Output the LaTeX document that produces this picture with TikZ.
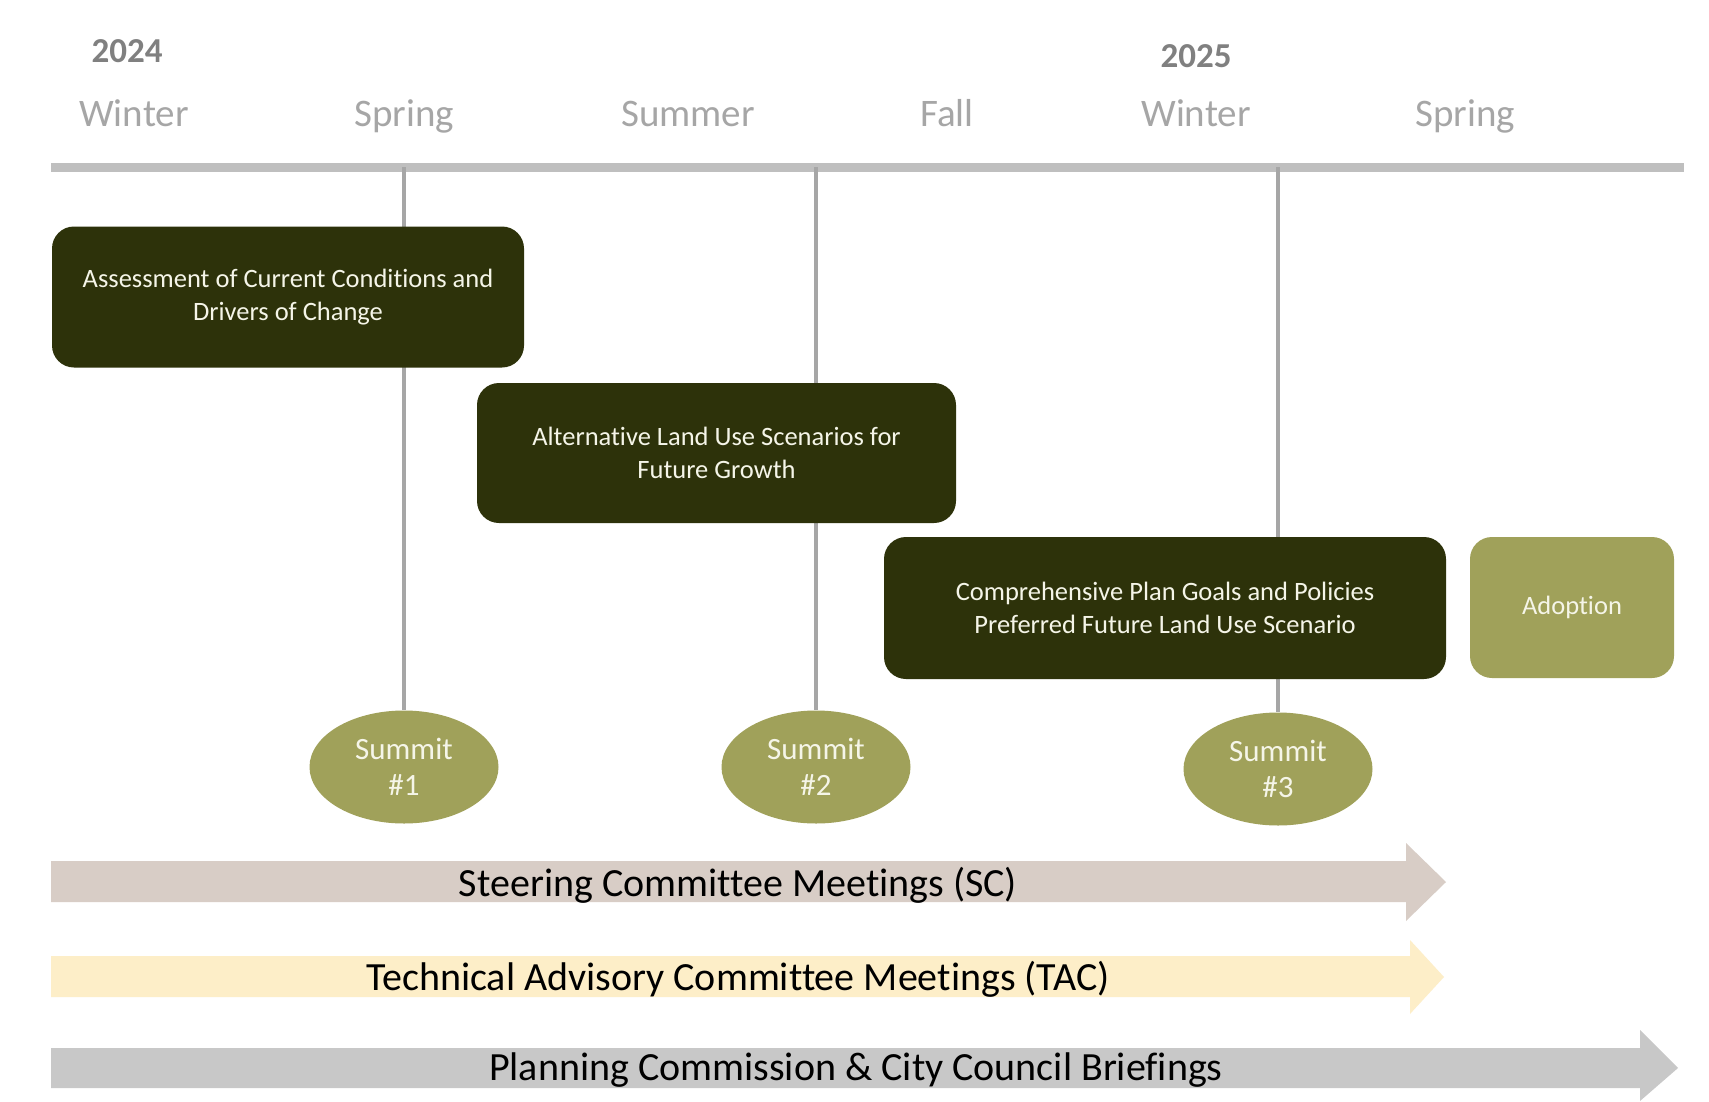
\documentclass[tikz,border=0pt]{standalone}
\usepackage{fontspec}
\setmainfont[Ligatures=NoCommon]{Carlito}
\usetikzlibrary{shapes.geometric}
\definecolor{darkbox}{RGB}{45,50,10}
\definecolor{olive}{RGB}{160,161,90}
\definecolor{boxtext}{RGB}{245,245,232}
\definecolor{season}{RGB}{166,166,166}
\definecolor{yeargray}{RGB}{128,128,128}
\definecolor{tline}{RGB}{191,191,191}
\definecolor{vline}{RGB}{166,166,166}
\definecolor{scfill}{RGB}{216,205,198}
\definecolor{tacfill}{RGB}{253,238,200}
\definecolor{pcfill}{RGB}{200,200,200}
\tikzset{
  seasonlbl/.style={text=season, font=\fontsize{39}{44}\selectfont, inner sep=0pt, anchor=base},
  yearlbl/.style={text=yeargray, font=\bfseries\fontsize{35}{40}\selectfont, inner sep=0pt},
  phase/.style={fill=darkbox, rounded corners=22pt, text=boxtext, align=center,
    font=\fontsize{26.5}{33}\selectfont, inner sep=0pt},
  summit/.style={ellipse, fill=olive, text=boxtext, align=center,
    minimum width=189pt, minimum height=113pt, inner sep=0pt,
    font=\fontsize{31}{36}\selectfont},
  conn/.style={draw=vline, line width=3.5pt},
  bandlbl/.style={text=black, font=\fontsize{40}{46}\selectfont, inner sep=0pt}
}
\begin{document}
\begin{tikzpicture}[x=1pt,y=-1pt]
\useasboundingbox (0,0) rectangle (1709,1101);
\fill[white] (0,0) rectangle (1709,1101);
% year / season labels
\node[yearlbl] (y24) at (127,51) {2024};
\node[yearlbl] (y25) at (1196,56) {2025};
\node[seasonlbl] (w1) at (134,126) {Winter};
\node[seasonlbl] (sp1) at (404,126) {Spring};
\node[seasonlbl] (su) at (688,126) {Summer};
\node[seasonlbl] (fa) at (947,126) {Fall};
\node[seasonlbl] (w2) at (1196,126) {Winter};
\node[seasonlbl] (sp2) at (1465,126) {Spring};
% timeline
\coordinate (tl0) at (51,167);
\coordinate (tl1) at (1684,167);
\draw[tline, line width=9pt] (tl0) -- (tl1);
\coordinate (t1) at (404,167);
\coordinate (t2) at (816,167);
\coordinate (t3) at (1278,167);
% summits
\node[summit] (s1) at (404,767) {Summit\\\#1};
\node[summit] (s2) at (816,767) {Summit\\\#2};
\node[summit] (s3) at (1278,769) {Summit\\\#3};
\draw[conn] (t1) -- (s1.north);
\draw[conn] (t2) -- (s2.north);
\draw[conn] (t3) -- (s3.north);
% phase boxes
\node[phase, minimum width=472pt, minimum height=141pt] (p1) at (288,297)
  {Assessment of Current Conditions and\\Drivers of Change};
\node[phase, minimum width=479pt, minimum height=140pt] (p2) at (716.5,453)
  {Alternative Land Use Scenarios for\\Future Growth};
\node[phase, minimum width=562pt, minimum height=142pt] (p3) at (1165,608)
  {Comprehensive Plan Goals and Policies\\Preferred Future Land Use Scenario};
\node[phase, fill=olive, minimum width=204pt, minimum height=141pt] (ad) at (1572,607.5)
  {Adoption};
% bands
\fill[scfill] (51,861) -- (1406,861) -- (1406,843) -- (1446,882) -- (1406,921) -- (1406,902) -- (51,902) -- cycle;
\node[bandlbl] (sc) at (738,885) {Steering Committee Meetings (SC)};
\fill[tacfill] (51,956) -- (1410,956) -- (1410,940) -- (1444,977) -- (1410,1014) -- (1410,997) -- (51,997) -- cycle;
\node[bandlbl] (tac) at (738,979) {Technical Advisory Committee Meetings (TAC)};
\fill[pcfill] (51,1048) -- (1640,1048) -- (1640,1030) -- (1678,1068) -- (1640,1101) -- (1640,1088) -- (51,1088) -- cycle;
\node[bandlbl] (pc) at (856,1070) {Planning Commission \& City Council Briefings};
\end{tikzpicture}
\end{document}
